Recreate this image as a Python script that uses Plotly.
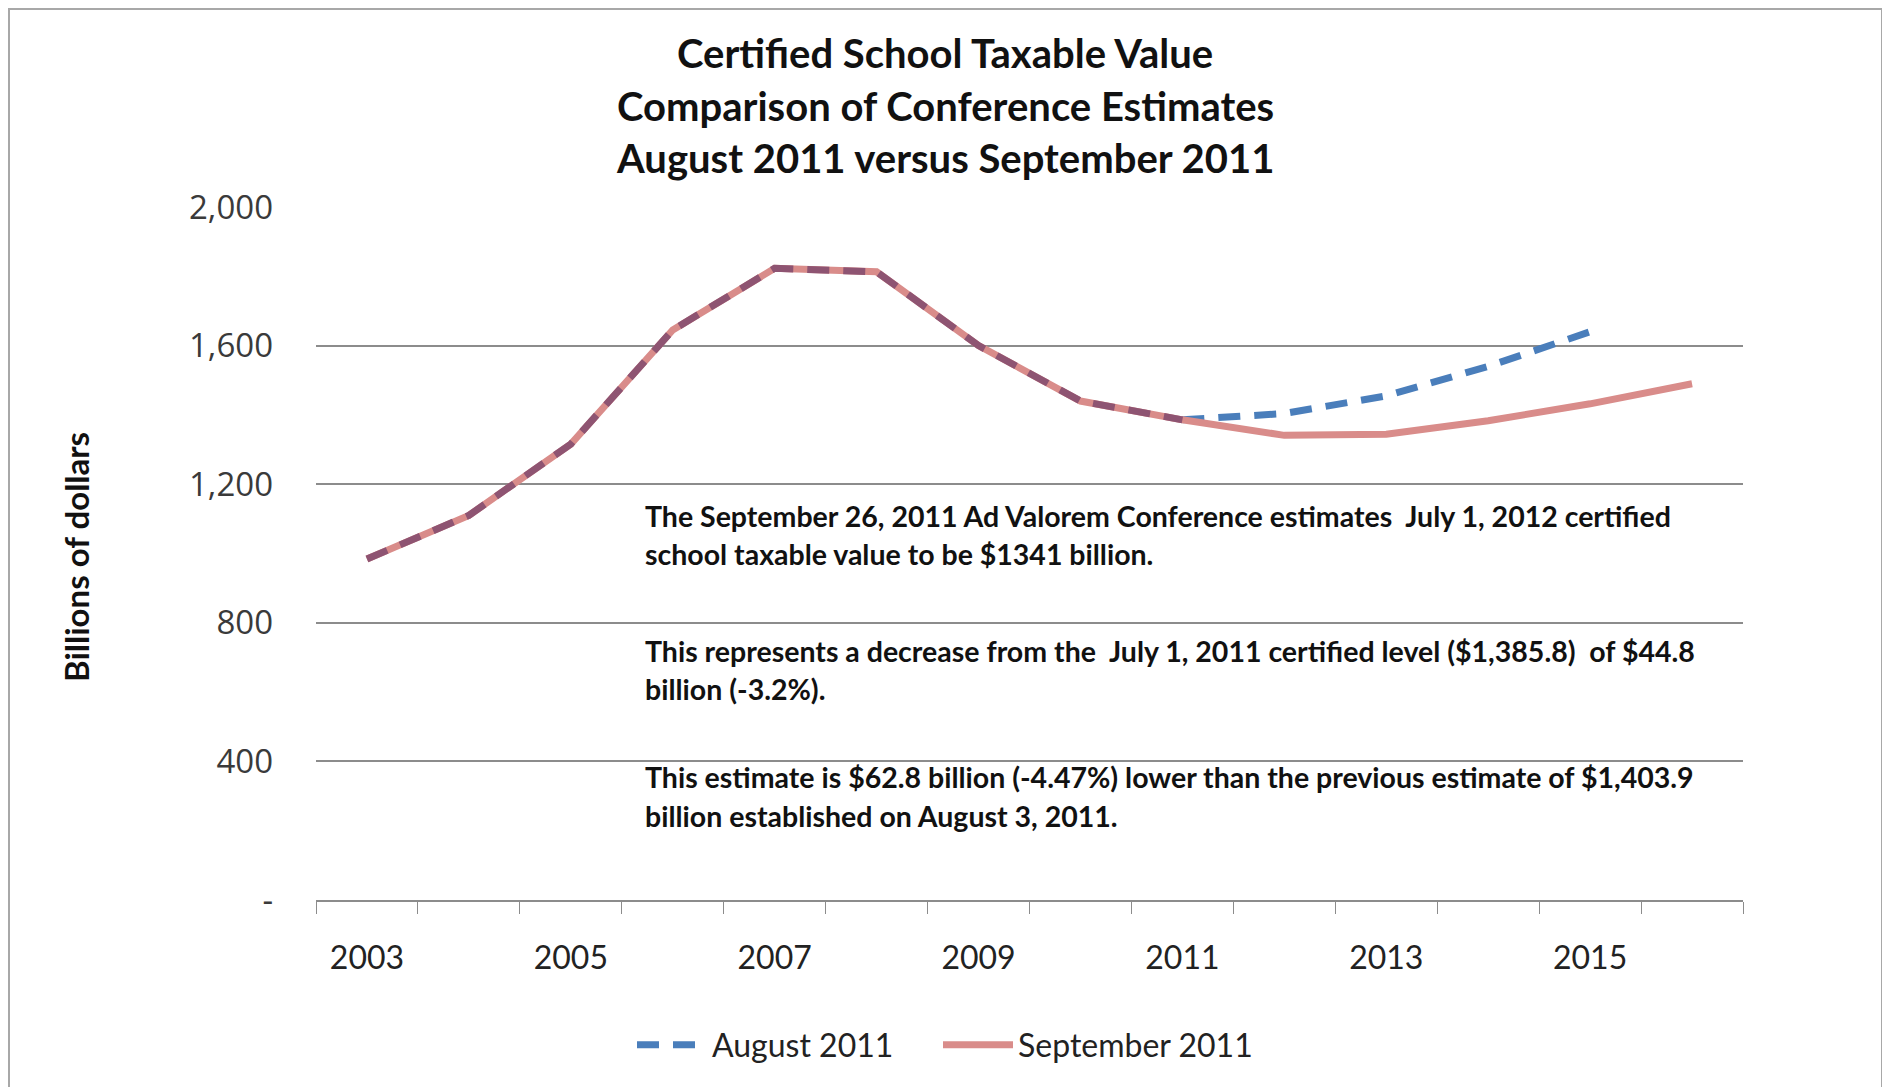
import plotly.graph_objects as go

years = list(range(2003, 2017))
september_2011 = [984, 1110, 1316, 1645, 1823, 1813, 1600, 1440, 1385.8, 1341.0, 1344, 1383, 1432, 1490]
# August 2011 estimate (history identical to September, forecast differs)
august_2011 = [984, 1110, 1316, 1645, 1823, 1813, 1600, 1440, 1385.8, 1403.9, 1455, 1540, 1640, None]

y_ticks = [0, 400, 800, 1200, 1600, 2000]
y_tick_text = ["-", "400", "800", "1,200", "1,600", "2,000"]
x_label_years = [2003, 2005, 2007, 2009, 2011, 2013, 2015]

title_lines = [
    "Certified School Taxable Value",
    "Comparison of Conference Estimates",
    "August 2011 versus September 2011",
]
y_title = "Billions of dollars"
note_lines = [
    "The September 26, 2011 Ad Valorem Conference estimates  July 1, 2012 certified",
    "school taxable value to be $1341 billion.",
    "This represents a decrease from the  July 1, 2011 certified level ($1,385.8)  of $44.8",
    "billion (-3.2%).",
    "This estimate is $62.8 billion (-4.47%) lower than the previous estimate of $1,403.9",
    "billion established on August 3, 2011.",
]

# split August into the part that coincides with September (history) and the forecast part
last_common = max(i for i in range(len(years)) if august_2011[i] == september_2011[i])
aug_hist_x = years[: last_common + 1]
aug_hist_y = august_2011[: last_common + 1]
aug_fc_x = [y for y, v in zip(years[last_common:], august_2011[last_common:]) if v is not None]
aug_fc_y = [v for v in august_2011[last_common:] if v is not None]

PINK = "#D98C8A"
BLUE = "#4A7EBB"
MAUVE = "#8E5472"
DASH = "22px,14px"

fig = go.Figure()
fig.add_trace(go.Scatter(x=aug_fc_x, y=aug_fc_y, mode="lines", name="August 2011", legend="legend",
                         line=dict(color=BLUE, width=7, dash=DASH)))
fig.add_trace(go.Scatter(x=years, y=september_2011, mode="lines", name="September 2011", legend="legend2",
                         line=dict(color=PINK, width=7)))
fig.add_trace(go.Scatter(x=aug_hist_x, y=aug_hist_y, mode="lines", showlegend=False,
                         line=dict(color=MAUVE, width=7, dash=DASH)))

OFF = 8  # default page body margin
# plot area in page pixels: x 316..1743, y 207..900
PL, PR, PT, PB = 316, 1743, 207, 900
W, H = 1890 - OFF, 1087 - OFF
L, T = PL - OFF, PT - OFF
R, B = W - (PR - OFF), H - (PB - OFF)
pw, ph = PR - PL, PB - PT

def px_x(x):
    return (x - PL) / pw

def px_y(y):
    return (PB - y) / ph

annotations = []
for line, yc in zip(title_lines, [53, 106, 158]):
    annotations.append(dict(text=line, x=px_x(945), y=px_y(yc), xref="paper", yref="paper",
                            xanchor="center", yanchor="middle", showarrow=False,
                            font=dict(family="Lato", size=40, color="#111111", weight="bold")))
for line, yc in zip(note_lines, [516, 554, 651, 689, 777, 816]):
    annotations.append(dict(text=line, x=px_x(643), y=px_y(yc), xref="paper", yref="paper",
                            xanchor="left", yanchor="middle", showarrow=False,
                            font=dict(family="Lato", size=28.5, color="#111111", weight="bold")))
annotations.append(dict(text=y_title, x=px_x(76), y=px_y(557), xref="paper", yref="paper",
                        xanchor="center", yanchor="middle", showarrow=False, textangle=-90,
                        font=dict(family="Lato", size=33, color="#111111", weight="bold")))

legend_common = dict(orientation="h", xanchor="left", yanchor="middle", y=px_y(1045),
                     font=dict(family="Lato", size=32, color="#222222"), itemwidth=70,
                     bgcolor="rgba(0,0,0,0)")

fig.update_layout(
    width=W, height=H,
    margin=dict(l=L, r=R, t=T, b=B, pad=0),
    paper_bgcolor="white", plot_bgcolor="white",
    showlegend=True,
    legend=dict(x=px_x(632), **legend_common),
    legend2=dict(x=px_x(938), **legend_common),
    annotations=annotations,
    shapes=[dict(type="rect", xref="paper", yref="paper", x0=px_x(9), x1=px_x(1882),
                 y0=px_y(1100), y1=px_y(9), line=dict(color="#A8A8A8", width=2), layer="below")],
)

boundaries = [years[0] - 0.5] + [y + 0.5 for y in years]
fig.update_xaxes(
    range=[years[0] - 0.5, years[-1] + 0.5],
    tickvals=x_label_years, ticktext=[str(v) for v in x_label_years],
    ticks="", showgrid=False, zeroline=False,
    showline=True, linecolor="#8C8C8C", linewidth=2,
    tickfont=dict(family="Lato", size=32, color="#222222"),
    ticklabelstandoff=29,
    minor=dict(tickvals=boundaries, ticks="outside", ticklen=12, tickcolor="#8C8C8C", tickwidth=1, showgrid=False),
)
fig.update_yaxes(
    range=[0, 2000],
    tickvals=y_ticks, ticktext=y_tick_text,
    showgrid=True, gridcolor="#8C8C8C", gridwidth=1.5,
    zeroline=False, showline=False, ticks="",
    tickfont=dict(family="Open Sans", size=33, color="#3A3A3A"),
    ticklabelstandoff=42,
)

fig.write_html("out.html")
